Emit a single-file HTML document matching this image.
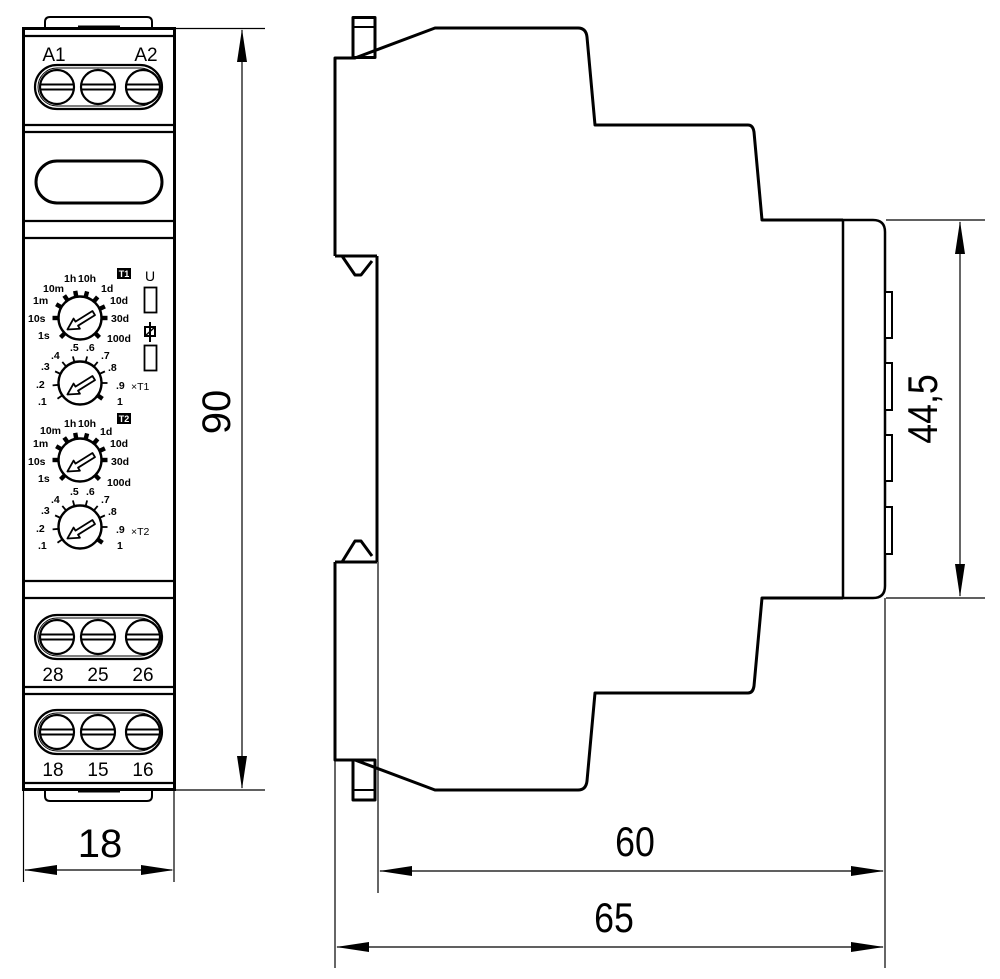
<!DOCTYPE html>
<html><head><meta charset="utf-8"><style>
html,body{margin:0;padding:0;background:#fff;width:1000px;height:979px;overflow:hidden}
svg{display:block}
.t{font-family:"Liberation Sans",sans-serif;fill:#000}
</style></head><body>
<svg width="1000" height="979" viewBox="0 0 1000 979" xmlns="http://www.w3.org/2000/svg">
<defs>
<rect id="tk" x="-2.2" y="-27.5" width="4.4" height="7" fill="#000"/>
<line id="tn" x1="0" y1="-21" x2="0" y2="-27.5" stroke="#000" stroke-width="1.8"/>
<polygon id="ar" points="15,-2.4 -5,-2.4 -5,-6 -16,0 -5,6 -5,2.4 15,2.4" fill="#fff" stroke="#000" stroke-width="1.8" stroke-linejoin="round"/>
<g id="d1">
<circle r="21.5" fill="#fff" stroke="#000" stroke-width="2.4"/>
<use href="#tk" transform="rotate(225)"/><use href="#tk" transform="rotate(270)"/><use href="#tk" transform="rotate(300)"/><use href="#tk" transform="rotate(325)"/><use href="#tk" transform="rotate(350)"/><use href="#tk" transform="rotate(15)"/><use href="#tk" transform="rotate(40)"/><use href="#tk" transform="rotate(65)"/><use href="#tk" transform="rotate(90)"/><use href="#tk" transform="rotate(135)"/>
<use href="#ar" transform="translate(1,3) rotate(-32)"/>
</g>
<g id="d2">
<circle r="21.5" fill="#fff" stroke="#000" stroke-width="2.4"/>
<use href="#tn" transform="rotate(235)"/><use href="#tn" transform="rotate(265)"/><use href="#tn" transform="rotate(295)"/><use href="#tn" transform="rotate(320)"/><use href="#tn" transform="rotate(345)"/><use href="#tn" transform="rotate(15)"/><use href="#tn" transform="rotate(40)"/><use href="#tn" transform="rotate(65)"/><use href="#tn" transform="rotate(90)"/><use href="#tk" transform="rotate(125)"/>
<use href="#ar" transform="translate(1,3) rotate(-32)"/>
</g>
<g id="scr">
<circle r="17" fill="#fff" stroke="#000" stroke-width="2.2"/>
<line x1="-16" y1="-2.5" x2="16" y2="-2.5" stroke="#000" stroke-width="2"/>
<line x1="-16" y1="2.5" x2="16" y2="2.5" stroke="#000" stroke-width="2"/>
</g>
<g id="term">
<rect x="35" y="-22" width="127" height="44" rx="22" fill="#fff" stroke="#000" stroke-width="2.2"/>
<rect x="38" y="-19" width="121" height="38" rx="19" fill="none" stroke="#000" stroke-width="1"/>
<use href="#scr" x="57"/><use href="#scr" x="98"/><use href="#scr" x="143"/>
</g>
</defs>

<!-- FRONT VIEW -->
<path d="M45 28 V22 Q45 17 50 17 H147 Q152 17 152 22 V28" fill="none" stroke="#000" stroke-width="2"/>
<line x1="78" y1="26.5" x2="120" y2="26.5" stroke="#000" stroke-width="2"/>
<path d="M45 790 V796 Q45 801 50 801 H147 Q152 801 152 796 V790" fill="none" stroke="#000" stroke-width="2"/>
<line x1="78" y1="791.5" x2="120" y2="791.5" stroke="#000" stroke-width="2"/>
<rect x="23.5" y="28.5" width="151" height="761" fill="#fff" stroke="#000" stroke-width="3"/>
<g stroke="#000" stroke-width="2.2">
<line x1="24" y1="36" x2="174" y2="36"/>
<line x1="24" y1="125" x2="174" y2="125"/><line x1="24" y1="132" x2="174" y2="132"/>
<line x1="24" y1="221" x2="174" y2="221"/><line x1="24" y1="238" x2="174" y2="238"/>
<line x1="24" y1="581" x2="174" y2="581"/><line x1="24" y1="598" x2="174" y2="598"/>
<line x1="24" y1="687" x2="174" y2="687"/><line x1="24" y1="694" x2="174" y2="694"/>
<line x1="24" y1="783" x2="174" y2="783"/>
</g>
<text class="t" x="54" y="61" font-size="19" text-anchor="middle">A1</text>
<text class="t" x="146" y="61" font-size="19" text-anchor="middle">A2</text>
<use href="#term" y="87"/>
<rect x="36" y="161" width="126" height="42" rx="21" fill="none" stroke="#000" stroke-width="3"/>
<use href="#term" y="637"/>
<text class="t" x="53" y="681" font-size="19" text-anchor="middle">28</text>
<text class="t" x="98" y="681" font-size="19" text-anchor="middle">25</text>
<text class="t" x="143" y="681" font-size="19" text-anchor="middle">26</text>
<use href="#term" y="732"/>
<text class="t" x="53" y="776" font-size="19" text-anchor="middle">18</text>
<text class="t" x="98" y="776" font-size="19" text-anchor="middle">15</text>
<text class="t" x="143" y="776" font-size="19" text-anchor="middle">16</text>

<!-- dials -->
<use href="#d1" x="80" y="318"/>
<use href="#d2" x="80" y="383"/>
<use href="#d1" x="80" y="460"/>
<use href="#d2" x="80" y="527"/>
<g class="t" font-size="10.5" font-weight="bold">
<text x="43" y="292">10m</text><text x="64" y="282">1h</text><text x="78" y="282">10h</text><text x="101" y="292">1d</text>
<text x="33" y="304">1m</text><text x="110" y="304">10d</text><text x="28" y="322">10s</text><text x="111" y="322">30d</text>
<text x="38" y="339">1s</text><text x="107" y="342">100d</text>
<text x="40" y="434">10m</text><text x="64" y="427">1h</text><text x="78" y="427">10h</text><text x="100" y="435">1d</text>
<text x="33" y="447">1m</text><text x="110" y="447">10d</text><text x="28" y="465">10s</text><text x="111" y="465">30d</text>
<text x="38" y="482">1s</text><text x="107" y="486">100d</text>
<text x="51" y="359">.4</text><text x="70" y="351">.5</text><text x="86" y="351">.6</text><text x="101" y="359">.7</text>
<text x="41" y="370">.3</text><text x="108" y="371">.8</text><text x="36" y="388">.2</text><text x="116" y="389">.9</text>
<text x="38" y="405">.1</text><text x="117" y="405">1</text>
<text x="51" y="503">.4</text><text x="70" y="495">.5</text><text x="86" y="495">.6</text><text x="101" y="503">.7</text>
<text x="41" y="514">.3</text><text x="108" y="515">.8</text><text x="36" y="532">.2</text><text x="116" y="533">.9</text>
<text x="38" y="549">.1</text><text x="117" y="549">1</text>
</g>
<g class="t" font-size="10.5"><text x="131" y="390">×T1</text><text x="131" y="535">×T2</text></g>
<rect x="117" y="268" width="14" height="11" fill="#000"/>
<text x="124" y="277" font-size="9" font-family="Liberation Sans,sans-serif" font-weight="bold" fill="#fff" text-anchor="middle">T1</text>
<rect x="117" y="413" width="14" height="11" fill="#000"/>
<text x="124" y="422" font-size="9" font-family="Liberation Sans,sans-serif" font-weight="bold" fill="#fff" text-anchor="middle">T2</text>
<text class="t" x="150" y="281" font-size="14" text-anchor="middle">U</text>
<rect x="144.5" y="287.5" width="12" height="25" fill="none" stroke="#000" stroke-width="1.8"/>
<rect x="144.5" y="345.5" width="12" height="25" fill="none" stroke="#000" stroke-width="1.8"/>
<rect x="145" y="327" width="10" height="9" fill="#fff" stroke="#000" stroke-width="2"/>
<line x1="150" y1="322" x2="150" y2="342" stroke="#000" stroke-width="2"/>
<line x1="145" y1="336" x2="155" y2="327" stroke="#000" stroke-width="1.5"/>

<!-- 90 dimension -->
<g stroke="#000" stroke-width="1.2">
<line x1="175" y1="28.5" x2="265" y2="28.5"/><line x1="175" y1="790" x2="265" y2="790"/>
<line x1="242" y1="30" x2="242" y2="788"/>
<line x1="23.5" y1="790" x2="23.5" y2="882"/><line x1="174" y1="790" x2="174" y2="882"/>
<line x1="25" y1="870" x2="172" y2="870"/>
</g>
<polygon points="242,29 237,62 247,62" fill="#000"/>
<polygon points="242,789 237,756 247,756" fill="#000"/>
<polygon points="24,870 57,865 57,875" fill="#000"/>
<polygon points="174,870 141,865 141,875" fill="#000"/>
<text class="t" transform="translate(230,412) rotate(-90)" font-size="40" text-anchor="middle">90</text>
<text class="t" x="100" y="857" font-size="40" text-anchor="middle">18</text>

<!-- SIDE VIEW -->
<g fill="none" stroke="#000" stroke-width="3" stroke-linejoin="round">
<rect x="353" y="17.5" width="22" height="40"/>
<line x1="353" y1="27" x2="375" y2="27" stroke-width="2"/>
<rect x="353" y="760" width="22" height="40"/>
<line x1="353" y1="790" x2="375" y2="790" stroke-width="2"/>
<path d="M335 256 V58 H355 L435 28 H578 Q586 28 587 37 L595 125 H748 Q753 125 754 132 L762 220 H843"/>
<path d="M843 598 H762 L754 686 Q753 693 748 693 H595 L587 781 Q586 790 578 790 H435 L355 760 H335 V562"/>
<path d="M335 256 H377 M342 256 L355 275 H361 L372 261 M377 256 V562 M335 562 H377 M342 562 L355 541 H361 L372 556"/>
<path d="M843 220 H873 Q885 220 885 232 V586 Q885 598 873 598 H843 Z" stroke-width="2.5"/>
</g>
<g fill="#fff" stroke="#000" stroke-width="2">
<rect x="885" y="292" width="7" height="46"/>
<rect x="885" y="363" width="7" height="47"/>
<rect x="885" y="435" width="7" height="46"/>
<rect x="885" y="507" width="7" height="47"/>
</g>
<!-- side dims -->
<g stroke="#000" stroke-width="1.2">
<line x1="886" y1="220" x2="985" y2="220"/><line x1="886" y1="598" x2="985" y2="598"/>
<line x1="960" y1="222" x2="960" y2="596"/>
<line x1="378" y1="562" x2="378" y2="893"/>
<line x1="335" y1="760" x2="335" y2="968"/>
<line x1="885" y1="598" x2="885" y2="968"/>
<line x1="380" y1="871" x2="883" y2="871"/>
<line x1="337" y1="947" x2="883" y2="947"/>
</g>
<polygon points="960,221 955,254 965,254" fill="#000"/>
<polygon points="960,597 955,564 965,564" fill="#000"/>
<polygon points="379,871 412,866 412,876" fill="#000"/>
<polygon points="884,871 851,866 851,876" fill="#000"/>
<polygon points="336,947 369,942 369,952" fill="#000"/>
<polygon points="884,947 851,942 851,952" fill="#000"/>
<text class="t" transform="translate(937,409) rotate(-90) scale(0.85,1)" font-size="42" text-anchor="middle">44,5</text>
<text class="t" transform="translate(635,856) scale(0.85,1)" font-size="42" text-anchor="middle">60</text>
<text class="t" transform="translate(614,932) scale(0.85,1)" font-size="42" text-anchor="middle">65</text>
</svg>
</body></html>
